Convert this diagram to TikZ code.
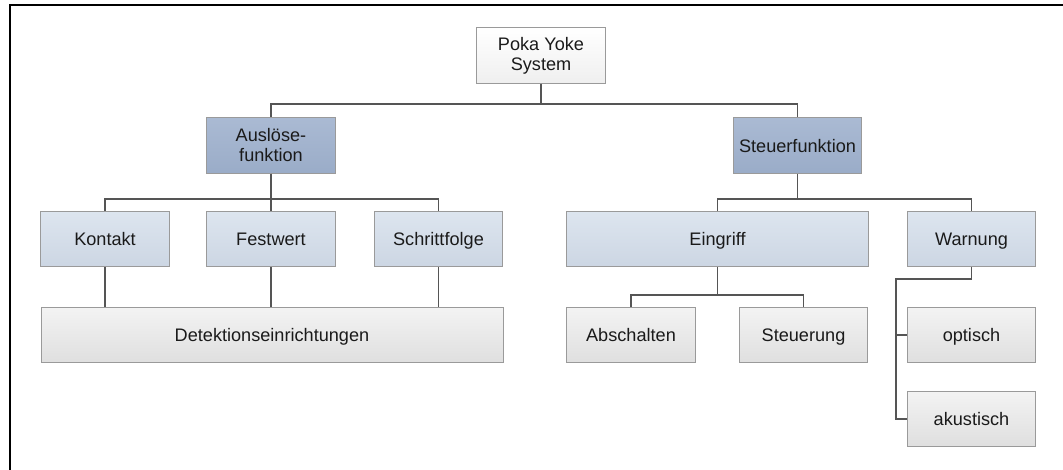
\documentclass[tikz,border=0pt]{standalone}
\usepackage{fontspec}
\setmainfont{Liberation Sans}
\definecolor{boxline}{HTML}{9A9A9A}
\definecolor{boxtext}{HTML}{1A1A1A}
\definecolor{linkgray}{HTML}{555555}
\definecolor{rootbot}{HTML}{EFEFEF}
\definecolor{functop}{HTML}{AABAD3}
\definecolor{funcbot}{HTML}{9AACC8}
\definecolor{typetop}{HTML}{DDE5EF}
\definecolor{typebot}{HTML}{CCD6E3}
\definecolor{leaftop}{HTML}{F3F3F3}
\definecolor{leafbot}{HTML}{DFDFDF}

\begin{document}
\begin{tikzpicture}[x=0.75pt,y=-0.75pt,
    box/.style={draw=boxline,line width=0.75pt,inner sep=0pt,minimum width=96.5pt,minimum height=41.5pt,align=center,text=boxtext,font=\fontsize{13.6}{15}\selectfont},
    oneline/.style={text height=9.8pt,text depth=0pt},
    rootbox/.style={box,top color=white,bottom color=rootbot},
    funcbox/.style={box,top color=functop,bottom color=funcbot},
    typebox/.style={box,oneline,top color=typetop,bottom color=typebot},
    leafbox/.style={box,oneline,top color=leaftop,bottom color=leafbot},
    link/.style={draw=linkgray,line width=1.1pt}]
                \useasboundingbox (0,0) rectangle (1063,470);
                \draw[line width=1.6pt] (10,470) -- (10,5) -- (1063,5);
                \node[rootbox](sys)at(541, 55.5){Poka Yoke\\System};
                \node[funcbox](ausl)at(271, 145.5){Auslöse-\\funktion};
                \node[funcbox,oneline](steu)at(797.5, 145.5){Steuerfunktion};
                \node[typebox](kont)at(105, 239){Kontakt};
                \node[typebox](fest)at(271, 239){Festwert};
                \node[typebox](schr)at(438.5, 239){Schrittfolge};
                \node[typebox,minimum width=226.5pt](eing)at(717.5, 239){Eingriff};
                \node[typebox](warn)at(971.5, 239){Warnung};
                \node[leafbox,minimum width=346.5pt](dete)at(272, 335){Detektionseinrichtungen};
                \node[leafbox](absc)at(631, 335){Abschalten};
                \node[leafbox](steg)at(803.5, 335){Steuerung};
                \node[leafbox](opti)at(971.5, 335){optisch};
                \node[leafbox](akus)at(971.5, 419){akustisch};
                \coordinate (bus0) at (0, 104);
                \coordinate (bus1) at (0, 199);
                \coordinate (bus2) at (0, 295);
                \coordinate (bus3) at (896, 279);
                \draw[link] (sys.south) -- (sys.south |- bus0) -| (ausl.north);
                \draw[link] (sys.south |- bus0) -| (steu.north);
                \draw[link] (ausl.south) -- (ausl.south |- bus1) -| (kont.north);
                \draw[link] (ausl.south |- bus1) -| (schr.north);
                \draw[link] (ausl.south) -- (fest.north);
                \draw[link] (kont.south) -- (kont.south |- dete.north);
                \draw[link] (fest.south) -- (fest.south |- dete.north);
                \draw[link] (schr.south) -- (schr.south |- dete.north);
                \draw[link] (steu.south) -- (steu.south |- bus1) -| (eing.north);
                \draw[link] (steu.south |- bus1) -| (warn.north);
                \draw[link] (eing.south) -- (eing.south |- bus2) -| (absc.north);
                \draw[link] (eing.south |- bus2) -| (steg.north);
                \draw[link] (warn.south) |- (bus3) |- (akus.west);
                \draw[link] (bus3 |- opti.west) -- (opti.west);
            \end{tikzpicture}
\end{document}
